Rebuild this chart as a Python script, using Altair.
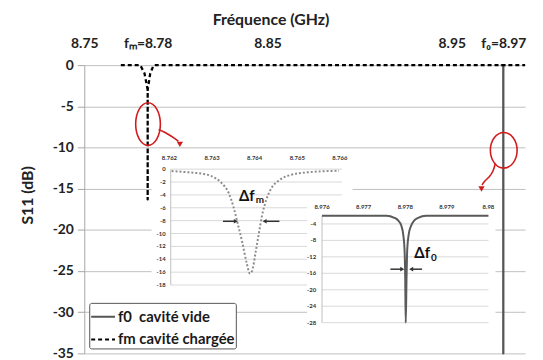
import altair as alt
import pandas as pd

# ---------------- main chart values ----------------
x_tick_values = [8.75, 8.78, 8.85, 8.95, 8.97]
y_tick_values = [0, -5, -10, -15, -20, -25, -30, -35]
series_names = ["f0\u00a0\u00a0cavité vide", "fm cavité chargée"]

f0_freq = [8.9690, 8.9700, 8.9700, 8.9700, 8.9710]
f0_db = [0.0, 0.0, -35.0, 0.0, 0.0]

fm_freq = [8.7673, 8.7765, 8.7785, 8.7800, 8.7800, 8.7800, 8.7815, 8.7835, 8.85, 8.95, 8.98]
fm_db = [0.0, 0.0, -1.0, -3.0, -16.3, -3.0, -1.0, 0.0, 0.0, 0.0, 0.0]

# ---------------- inset 1 (fm zoom) ----------------
in1_x_ticks = [8.762, 8.763, 8.764, 8.765, 8.766]
in1_x_labels = ["8.762", "8.763", "8.764", "8.765", "8.766"]
in1_y_ticks = [0, -2, -4, -6, -8, -10, -12, -14, -16, -18]
in1_freq = [8.76205, 8.76245, 8.76285, 8.76308, 8.76323, 8.76339, 8.76350, 8.76360,
            8.76371, 8.76381, 8.76389, 8.76394, 8.76402, 8.76410, 8.76417, 8.76427,
            8.76439, 8.76458, 8.76485, 8.76524, 8.76598]
in1_db = [-0.3, -0.5, -0.8, -1.4, -2.2, -3.7, -5.8, -8.4, -11.4, -14.5, -16.2, -15.8,
          -13.0, -9.9, -7.3, -4.8, -3.0, -1.7, -0.9, -0.5, -0.25]

# ---------------- inset 2 (f0 zoom) ----------------
in2_x_ticks = [8.976, 8.977, 8.978, 8.979, 8.98]
in2_x_labels = ["8.976", "8.977", "8.978", "8.979", "8.98"]
in2_y_ticks = [-4, -8, -12, -16, -20, -24, -28]
in2_freq = [8.976, 8.977548, 8.977738, 8.977833, 8.977905, 8.977952, 8.977983, 8.978,
            8.978012, 8.978031, 8.978048, 8.978083, 8.978143, 8.978214, 8.978310,
            8.9785, 8.98]
in2_db = [-2.0, -2.0, -2.5, -3.2, -4.4, -6.6, -10.2, -17.4, -28.0, -17.4, -10.2, -6.6,
          -4.4, -3.2, -2.5, -2.0, -2.0]

# ---------------- annotations ----------------
ellipse_freq = [8.7802, 8.9702]
ellipse_db = [-7.16, -10.34]
arrow1_freq = [8.78636, 8.78926, 8.79215, 8.79504, 8.79793]
arrow1_db = [-7.82, -8.06, -8.42, -8.78, -9.26]
arrow2_freq = [8.96692, 8.96615, 8.96462, 8.96269, 8.96173]
arrow2_db = [-11.91, -12.87, -13.59, -14.07, -14.55]
arrowhead_freq = [8.7988, 8.96154]
arrowhead_db = [-9.62, -15.03]

# ---------------- scales (pixel ranges of plot / insets) ----------------
XM = alt.Scale(domain=[8.75, 8.78, 8.85, 8.95, 8.97, 8.98],
               range=[0, 64, 185, 371, 423, 445], nice=False, zero=False)
YM = alt.Scale(domain=[-35, 0], range=[291, 0], nice=False, zero=False)
X1 = alt.Scale(domain=[8.762, 8.766], range=[86, 258], nice=False, zero=False)
Y1 = alt.Scale(domain=[-18, 0], range=[222, 105], nice=False, zero=False)
X2 = alt.Scale(domain=[8.976, 8.98], range=[240, 408], nice=False, zero=False)
Y2 = alt.Scale(domain=[-28, -2], range=[260, 152], nice=False, zero=False)

FONT = "Lato"
RED = "#d01c1c"


def ex(field, sc):
    return alt.X(field, type="quantitative", scale=sc, axis=None)


def ey(field, sc):
    return alt.Y(field, type="quantitative", scale=sc, axis=None)


# ---------------- main lines ----------------
rows = []
for i, (f, d) in enumerate(zip(f0_freq, f0_db)):
    rows.append({"series": series_names[0], "freq": f, "db": d, "ord": i})
for i, (f, d) in enumerate(zip(fm_freq, fm_db)):
    rows.append({"series": series_names[1], "freq": f, "db": d, "ord": i})
main_df = pd.DataFrame(rows)

label_expr = ("datum.value == 8.78 ? 'f\u2098=8.78' : datum.value == 8.97 ? 'f\u2080=8.97' : "
              "format(datum.value, '.2f')")

x_axis = alt.Axis(orient="top", values=x_tick_values, labelExpr=label_expr,
                  title="Fréquence (GHz)", grid=False, domain=False, ticks=False, tickSize=0,
                  labelPadding=15, labelFont=FONT, labelFontSize=14, labelFontWeight="bold",
                  labelColor="#222222", labelFlush=False, labelOverlap=False,
                  titleFont=FONT, titleFontSize=16, titleFontWeight="bold", titleColor="#222222",
                  titleX=188, titleY=-46, titleBaseline="middle", titleAlign="center")
y_axis = alt.Axis(values=y_tick_values, grid=True, gridColor="#bfbfbf", gridWidth=1,
                  domain=True, domainColor="#a6a6a6", ticks=True, tickColor="#a6a6a6",
                  tickSize=7, labelPadding=4, labelFont=FONT, labelFontSize=14,
                  labelFontWeight="bold", labelColor="#222222",
                  labelExpr="replace(datum.label, '\u2212', '-')",
                  title="S11 (dB)", titleFont=FONT, titleFontSize=16, titleFontWeight="bold",
                  titleColor="#222222", titleX=-57, titleY=131, titleAngle=-90,
                  titleBaseline="middle", titleAlign="center")

legend = alt.Legend(title=None, orient="none", legendX=5, legendY=240, fillColor="white",
                    strokeColor="#555555", padding=1, cornerRadius=2, labelFont=FONT,
                    labelFontSize=15, labelFontWeight="bold", labelColor="#1a1a1a",
                    symbolType="stroke", symbolSize=576, symbolStrokeWidth=2,
                    rowPadding=2, labelOffset=2)

main_lines = alt.Chart(main_df).mark_line(strokeWidth=2.3, strokeJoin="round").encode(
    x=alt.X("freq:Q", scale=XM, axis=x_axis),
    y=alt.Y("db:Q", scale=YM, axis=y_axis),
    color=alt.Color("series:N", scale=alt.Scale(domain=series_names, range=["#555555", "#000000"]),
                    legend=legend),
    strokeDash=alt.StrokeDash("series:N", scale=alt.Scale(domain=series_names, range=[[1, 0], [4, 3]]),
                              legend=legend),
    order="ord:Q",
)

layers = [main_lines]


def inset_layers(xs, ys, bg, xgrid, xt, xl, yt, ylab_x, xlab_y, curve_f, curve_d, curve_mark,
                 arrows, dtext, sub, ytop):
    out = []
    bg_df = pd.DataFrame([{"x": bg[0], "x2": bg[1], "y": bg[2], "y2": bg[3]}])
    out.append(alt.Chart(bg_df).mark_rect(color="white").encode(
        x=ex("x", xs), x2="x2:Q", y=ey("y", ys), y2="y2:Q"))
    g_df = pd.DataFrame({"db": yt, "x": xgrid[0], "x2": xgrid[1]})
    out.append(alt.Chart(g_df).mark_rule(color="#d9d9d9", strokeWidth=1).encode(
        x=ex("x", xs), x2="x2:Q", y=ey("db", ys)))
    ax_df = pd.DataFrame([{"x": xgrid[0], "y": ytop, "y2": min(yt)}])
    out.append(alt.Chart(ax_df).mark_rule(color="#bfbfbf", strokeWidth=1).encode(
        x=ex("x", xs), y=ey("y", ys), y2="y2:Q"))
    xl_df = pd.DataFrame({"f": xt, "label": xl, "db": xlab_y})
    out.append(alt.Chart(xl_df).mark_text(font=FONT, fontSize=6, fontWeight="bold",
                                          color="#333333", baseline="middle").encode(
        x=ex("f", xs), y=ey("db", ys), text="label:N"))
    yl_df = pd.DataFrame({"db": yt, "label": [str(v) for v in yt], "f": ylab_x})
    out.append(alt.Chart(yl_df).mark_text(font=FONT, fontSize=6, fontWeight="bold",
                                          color="#333333", align="right", baseline="middle").encode(
        x=ex("f", xs), y=ey("db", ys), text="label:N"))
    c_df = pd.DataFrame({"f": curve_f, "db": curve_d, "i": list(range(len(curve_f)))})
    out.append(alt.Chart(c_df).mark_line(**curve_mark).encode(
        x=ex("f", xs), y=ey("db", ys), order="i:Q"))
    a_df = pd.DataFrame([{"x": a[0], "x2": a[1], "db": arrows[2]} for a in arrows[:2]])
    out.append(alt.Chart(a_df).mark_rule(color="#333333", strokeWidth=1.5).encode(
        x=ex("x", xs), x2="x2:Q", y=ey("db", ys)))
    h_df = pd.DataFrame([{"x": arrows[0][1], "db": arrows[2]}])
    out.append(alt.Chart(h_df).mark_point(shape="triangle-right", filled=True, size=22,
                                          color="#333333", opacity=1).encode(
        x=ex("x", xs), y=ey("db", ys)))
    h2_df = pd.DataFrame([{"x": arrows[1][1], "db": arrows[2]}])
    out.append(alt.Chart(h2_df).mark_point(shape="triangle-left", filled=True, size=22,
                                           color="#333333", opacity=1).encode(
        x=ex("x", xs), y=ey("db", ys)))
    t_df = pd.DataFrame([{"x": dtext[0], "db": dtext[1], "t": "\u0394f"}])
    out.append(alt.Chart(t_df).mark_text(font=FONT, fontSize=15, fontWeight="bold",
                                         color="#111111", align="right", baseline="middle").encode(
        x=ex("x", xs), y=ey("db", ys), text="t:N"))
    s_df = pd.DataFrame([{"x": dtext[0], "db": dtext[2], "t": sub}])
    out.append(alt.Chart(s_df).mark_text(font=FONT, fontSize=10, fontWeight="bold",
                                         color="#111111", align="left", baseline="middle", dx=1).encode(
        x=ex("x", xs), y=ey("db", ys), text="t:N"))
    return out


layers += inset_layers(
    X1, Y1, bg=(8.76158, 8.7663, 2.92, -18.77), xgrid=(8.76203, 8.76605),
    xt=in1_x_ticks, xl=in1_x_labels, yt=in1_y_ticks, ylab_x=8.76191, xlab_y=1.7,
    curve_f=in1_freq, curve_d=in1_db,
    curve_mark=dict(color="#8c8c8c", strokeWidth=2, strokeDash=[2, 2], interpolate="monotone"),
    arrows=((8.763256, 8.763558), (8.764581, 8.764233), -8.1),
    dtext=(8.764, -4.15, -4.8), sub="m", ytop=0)

layers += inset_layers(
    X2, Y2, bg=(8.97564, 8.98017, 2.09, -30.17), xgrid=(8.976, 8.98),
    xt=in2_x_ticks, xl=in2_x_labels, yt=in2_y_ticks, ylab_x=8.97586, xlab_y=0.17,
    curve_f=in2_freq, curve_d=in2_db,
    curve_mark=dict(color="#5a5a5a", strokeWidth=2, interpolate="monotone"),
    arrows=((8.977643, 8.977929), (8.978405, 8.978143), -15.0),
    dtext=(8.978595, -11.15, -12.35), sub="0", ytop=-2)

# ---------------- red annotations (main coordinates) ----------------
K = 0.5523


def ellipse_path(a):
    return (f"M0,-1 C{a*K:.3f},-1 {a:.3f},{-K:.3f} {a:.3f},0 "
            f"C{a:.3f},{K:.3f} {a*K:.3f},1 0,1 "
            f"C{-a*K:.3f},1 {-a:.3f},{K:.3f} {-a:.3f},0 "
            f"C{-a:.3f},{-K:.3f} {-a*K:.3f},-1 0,-1 Z")


e1 = pd.DataFrame([{"f": ellipse_freq[0], "db": ellipse_db[0]}])
e2 = pd.DataFrame([{"f": ellipse_freq[1], "db": ellipse_db[1]}])
layers.append(alt.Chart(e1).mark_point(shape=ellipse_path(0.58), size=1849, filled=False,
                                       color=RED, strokeWidth=1.6, opacity=1).encode(
    x=ex("f", XM), y=ey("db", YM)))
layers.append(alt.Chart(e2).mark_point(shape=ellipse_path(0.75), size=1296, filled=False,
                                       color=RED, strokeWidth=1.6, opacity=1).encode(
    x=ex("f", XM), y=ey("db", YM)))

a1 = pd.DataFrame({"f": arrow1_freq, "db": arrow1_db, "i": list(range(len(arrow1_freq)))})
a2 = pd.DataFrame({"f": arrow2_freq, "db": arrow2_db, "i": list(range(len(arrow2_freq)))})
for adf in (a1, a2):
    layers.append(alt.Chart(adf).mark_line(color=RED, strokeWidth=1.6, interpolate="basis").encode(
        x=ex("f", XM), y=ey("db", YM), order="i:Q"))
heads = pd.DataFrame({"f": arrowhead_freq, "db": arrowhead_db})
layers.append(alt.Chart(heads).mark_point(shape="triangle-down", filled=True, size=40,
                                          color=RED, opacity=1).encode(
    x=ex("f", XM), y=ey("db", YM)))

chart = alt.layer(*layers).resolve_scale(x="independent", y="independent").properties(
    width=445, height=291,
    padding={"left": 77, "top": 56, "right": 10, "bottom": 5},
    autosize=alt.AutoSizeParams(type="none"),
    background="white",
).configure_view(strokeWidth=0)

chart.save("out.html", embed_options={"renderer": "svg", "actions": False})
